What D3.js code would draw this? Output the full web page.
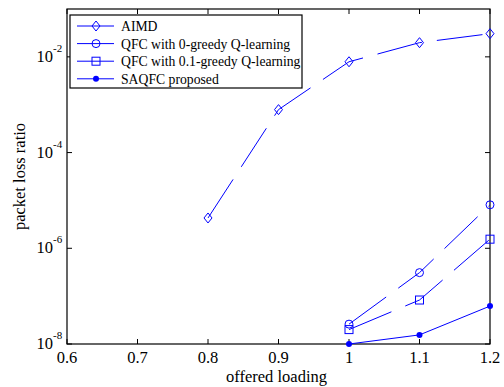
<!DOCTYPE html>
<html>
<head>
<meta charset="utf-8">
<script src="https://cdn.jsdelivr.net/npm/d3@7"></script>
<style>
  body { margin: 0; background: #fff; }
  text { font-family: "Liberation Serif", "Times New Roman", serif; }
</style>
</head>
<body>
<div id="viz-container"></div>
<script>
// values
const loads = [0.8, 0.9, 1.0, 1.1, 1.2];
const aimd = [4.3e-6, 7.9e-4, 7.9e-3, 1.98e-2, 3.05e-2];
const qfcLoads = [1.0, 1.1, 1.2];
const qfc0 = [2.6e-8, 3.1e-7, 8.1e-6];
const qfc01 = [2.0e-8, 8.3e-8, 1.55e-6];
const saqfc = [1.0e-8, 1.55e-8, 6.2e-8];
const xTicks = [0.6, 0.7, 0.8, 0.9, 1, 1.1, 1.2];
const yTickExps = [-8, -6, -4, -2];
const names = ["AIMD", "QFC with 0-greedy Q-learning", "QFC with 0.1-greedy Q-learning", "SAQFC proposed"];

const W = 504, H = 387;
const m = {left: 67, right: 14, top: 9, bottom: 43};
const blue = "#0000ff";

const svg = d3.select('#viz-container')
    .append('svg')
        .attr("width", W)
        .attr("height", H);

const x = d3.scaleLinear().domain([0.6, 1.2]).range([m.left, W - m.right]);
const y = d3.scaleLog().domain([1e-8, 1e-1]).range([H - m.bottom, m.top]);

const g = svg.append('g');

// box
g.append('rect')
    .attr('x', x(0.6)).attr('y', y(1e-1))
    .attr('width', x(1.2) - x(0.6))
    .attr('height', y(1e-8) - y(1e-1))
    .attr('fill', 'none').attr('stroke', '#000').attr('stroke-width', 1.2);

// inward ticks on all sides
const tl = 5;
xTicks.forEach(t => {
    g.append('line').attr('x1', x(t)).attr('x2', x(t))
        .attr('y1', y(1e-8)).attr('y2', y(1e-8) - tl).attr('stroke', '#000');
    g.append('line').attr('x1', x(t)).attr('x2', x(t))
        .attr('y1', y(1e-1)).attr('y2', y(1e-1) + tl).attr('stroke', '#000');
    g.append('text').attr('x', x(t)).attr('y', y(1e-8) + 19)
        .attr('text-anchor', 'middle').attr('font-size', 16.5).text(t);
});
yTickExps.forEach(e => {
    const v = Math.pow(10, e);
    g.append('line').attr('x1', x(0.6)).attr('x2', x(0.6) + tl)
        .attr('y1', y(v)).attr('y2', y(v)).attr('stroke', '#000');
    g.append('line').attr('x1', x(1.2)).attr('x2', x(1.2) - tl)
        .attr('y1', y(v)).attr('y2', y(v)).attr('stroke', '#000');
    g.append('text').attr('x', x(0.6) - 14).attr('y', y(v) + 5)
        .attr('text-anchor', 'end').attr('font-size', 16.5).text('10');
    g.append('text').attr('x', x(0.6) - 14).attr('y', y(v) - 5)
        .attr('font-size', 11).text(e);
});

g.append('text').attr('x', (x(0.6) + x(1.2)) / 2 - 2).attr('y', 382)
    .attr('text-anchor', 'middle').attr('font-size', 16.5).text('offered loading');
g.append('text')
    .attr('transform', `translate(25,${(y(1e-8) + y(1e-1)) / 2}) rotate(-90)`)
    .attr('text-anchor', 'middle').attr('font-size', 16.5).text('packet loss ratio');

const line = d3.line().x(d => x(d[0])).y(d => y(d[1]));

const series = [
    {xs: loads, ys: aimd, dash: "46,15", marker: "diamond"},
    {xs: qfcLoads, ys: qfc0, dash: "46,15", marker: "circle"},
    {xs: qfcLoads, ys: qfc01, dash: "46,15", marker: "square"},
    {xs: qfcLoads, ys: saqfc, dash: null, marker: "dot"}
];

const drawMarker = (sel, type, cx, cy) => {
    if (type === "diamond") {
        sel.append('path').attr('d', `M${cx},${cy - 5}L${cx + 4},${cy}L${cx},${cy + 5}L${cx - 4},${cy}Z`)
            .attr('fill', 'none').attr('stroke', blue);
    } else if (type === "circle") {
        sel.append('circle').attr('cx', cx).attr('cy', cy).attr('r', 4)
            .attr('fill', 'none').attr('stroke', blue);
    } else if (type === "square") {
        sel.append('rect').attr('x', cx - 4).attr('y', cy - 4).attr('width', 8).attr('height', 8)
            .attr('fill', 'none').attr('stroke', blue);
    } else {
        sel.append('circle').attr('cx', cx).attr('cy', cy).attr('r', 3)
            .attr('fill', blue);
    }
};

series.forEach(s => {
    const pts = s.xs.map((v, i) => [v, s.ys[i]]);
    g.append('path').datum(pts).attr('d', line)
        .attr('fill', 'none').attr('stroke', blue).attr('stroke-width', 1)
        .attr('stroke-dasharray', s.dash);
    pts.forEach(p => drawMarker(g, s.marker, x(p[0]), y(p[1])));
});

// legend
const lg = svg.append('g');
lg.append('rect').attr('x', 70).attr('y', 15).attr('width', 232).attr('height', 73)
    .attr('fill', '#fff').attr('stroke', '#000').attr('stroke-width', 1.2);
names.forEach((n, i) => {
    const ly = 26 + i * 17.6;
    lg.append('line').attr('x1', 77).attr('x2', 114).attr('y1', ly).attr('y2', ly)
        .attr('stroke', blue);
    drawMarker(lg, series[i].marker, 96, ly);
    lg.append('text').attr('x', 121).attr('y', ly + 5).attr('font-size', 13.7).text(n);
});
</script>
</body>
</html>
